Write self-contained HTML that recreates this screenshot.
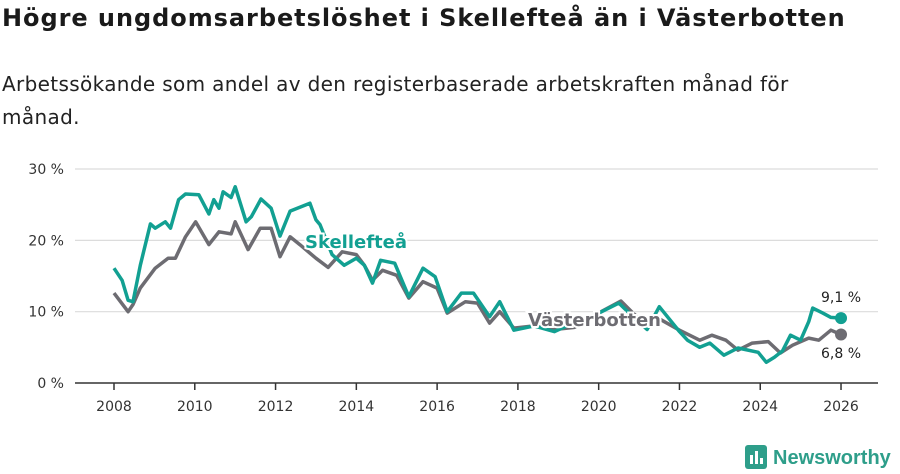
<!DOCTYPE html>
<html><head><meta charset="utf-8"><style>
body{margin:0;background:#fff;width:900px;height:474px;overflow:hidden;font-family:"DejaVu Sans","Liberation Sans",sans-serif;color:#1a1a1a}
h1{position:absolute;left:2px;top:4px;margin:0;font-size:24px;font-weight:bold;letter-spacing:0.95px;white-space:nowrap}
p{position:absolute;left:2px;top:68px;margin:0;font-size:20px;line-height:33px;width:826px;color:#222;letter-spacing:0.35px}
svg{position:absolute;left:0;top:0}
</style></head><body>
<h1>Högre ungdomsarbetslöshet i Skellefteå än i Västerbotten</h1>
<p>Arbetssökande som andel av den registerbaserade arbetskraften månad för månad.</p>
<svg id="c" width="900" height="474"></svg>
<script>
const yTicks=[0,10,20,30];
const xTicks=[2008,2010,2012,2014,2016,2018,2020,2022,2024,2026];
const skeX=[2008,2008.2,2008.35,2008.47,2008.65,2008.9,2009.02,2009.27,2009.4,2009.6,2009.77,2010.1,2010.35,2010.47,2010.6,2010.7,2010.9,2011.0,2011.27,2011.4,2011.64,2011.89,2012.11,2012.36,2012.85,2013.0,2013.1,2013.4,2013.7,2014.0,2014.2,2014.4,2014.6,2014.95,2015.3,2015.65,2015.95,2016.25,2016.6,2016.9,2017.3,2017.55,2017.9,2018.4,2018.9,2019.4,2019.9,2020.5,2020.85,2021.2,2021.5,2022.0,2022.2,2022.5,2022.75,2023.1,2023.45,2023.95,2024.15,2024.35,2024.55,2024.75,2025.0,2025.2,2025.3,2025.55,2025.75,2026.0];
const skeY=[16.1,14.4,11.6,11.4,16.5,22.3,21.7,22.6,21.7,25.7,26.5,26.4,23.7,25.7,24.5,26.8,26.0,27.5,22.6,23.3,25.8,24.5,20.6,24.1,25.2,22.9,22.2,18.0,16.5,17.5,16.5,14.0,17.2,16.8,12.1,16.1,14.9,10.0,12.6,12.6,9.3,11.4,7.4,8.0,7.2,8.5,9.5,11.2,9.3,7.5,10.7,7.2,6.0,5.0,5.6,3.9,4.9,4.3,2.9,3.6,4.5,6.7,6.0,8.6,10.5,9.8,9.2,9.1];
const vbX=[2008,2008.35,2008.47,2008.65,2009.02,2009.34,2009.52,2009.77,2010.02,2010.35,2010.6,2010.9,2011.0,2011.32,2011.62,2011.89,2012.11,2012.36,2012.6,2013.0,2013.3,2013.65,2014.0,2014.2,2014.4,2014.65,2015.0,2015.3,2015.65,2016.0,2016.25,2016.7,2017.0,2017.3,2017.55,2017.9,2018.4,2018.9,2019.4,2019.9,2020.55,2020.85,2021.2,2021.5,2022.0,2022.5,2022.8,2023.15,2023.45,2023.8,2024.2,2024.5,2024.8,2025.2,2025.45,2025.75,2026.0];
const vbY=[12.6,10.0,11.0,13.3,16.1,17.5,17.5,20.5,22.6,19.4,21.2,20.9,22.6,18.7,21.7,21.7,17.7,20.5,19.4,17.5,16.2,18.4,18.0,16.5,14.4,15.8,15.1,11.9,14.2,13.3,9.8,11.4,11.2,8.4,10.0,7.7,8.0,7.5,7.8,9.5,11.5,9.8,8.0,9.0,7.4,6.0,6.7,6.0,4.6,5.6,5.8,4.2,5.3,6.3,6.0,7.4,6.8];
const X=y=>114+(y-2008)*40.39, Y=v=>383-v*7.133;
const svg=document.getElementById('c'),NS='http://www.w3.org/2000/svg';
function mk(t,a,txt){const e=document.createElementNS(NS,t);for(const k in a)e.setAttribute(k,a[k]);if(txt!=null)e.textContent=txt;svg.appendChild(e);return e;}
yTicks.forEach(v=>{
 const g=mk('line',{x1:75,x2:878,y1:Y(v),y2:Y(v),stroke:v?'#dcdcdc':'#333','stroke-width':v?1.2:1.5});
 
 
 const t=mk('text',{x:64,y:Y(v)+5,'text-anchor':'end','font-size':14,fill:'#333'},v+' %');
 
 
});
xTicks.forEach(v=>{
 const l=mk('line',{x1:X(v),x2:X(v),y1:383,y2:390,stroke:'#333','stroke-width':1.5});
 
 
 const t=mk('text',{x:X(v),y:411,'text-anchor':'middle','font-size':14,fill:'#333'},v);
 
 
});
function line(xs,ys,col,name){
 const d=xs.map((x,i)=>(i?'L':'M')+X(x).toFixed(1)+','+Y(ys[i]).toFixed(1)).join('');
 const p=mk('path',{d:d,fill:'none',stroke:col,'stroke-width':3.5,'stroke-linejoin':'round'});
 
 
 const c=mk('circle',{cx:X(xs[xs.length-1]),cy:Y(ys[ys.length-1]),r:6,fill:col});
 
 
}
line(vbX,vbY,'#6d6c72','vasterbotten-line');
line(skeX,skeY,'#12a092','skelleftea-line');
const l1=mk('text',{x:305,y:248,'font-size':18,'font-weight':'bold',fill:'#12a092',stroke:'#fff','stroke-width':4,'paint-order':'stroke'},'Skellefteå');


const l2=mk('text',{x:528,y:326,'font-size':18,'font-weight':'bold',fill:'#6d6c72',stroke:'#fff','stroke-width':4,'paint-order':'stroke'},'Västerbotten');


const v1=mk('text',{x:841,y:302,'text-anchor':'middle','font-size':14,fill:'#222'},'9,1 %');


const v2=mk('text',{x:841,y:358,'text-anchor':'middle','font-size':14,fill:'#222'},'6,8 %');


const lg=mk('g',{});


lg.innerHTML='<rect x="745" y="445" width="22" height="24" rx="3" fill="#2e9e8a"/><rect x="750" y="455" width="3" height="9" fill="#fff"/><rect x="755" y="451" width="3" height="13" fill="#fff"/><rect x="760" y="458" width="3" height="6" fill="#fff"/><text x="773" y="464" font-size="20" font-weight="bold" fill="#2e9e8a" font-family="Liberation Sans, sans-serif">Newsworthy</text>';
</script>
</body></html>
